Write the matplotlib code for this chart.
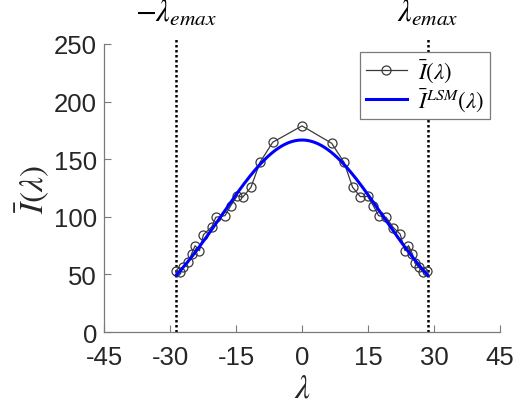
import numpy as np
import matplotlib
matplotlib.use("Agg")
import matplotlib.pyplot as plt

plt.rcParams["font.family"] = ["Liberation Sans", "DejaVu Sans"]
plt.rcParams["mathtext.fontset"] = "stix"
plt.rcParams["axes.unicode_minus"] = False

# Mean intensity samples over lambda
lam = [-28.6, -27.7, -27.1, -25.8, -25.1, -24.3, -23.3, -22.4, -20.5, -19.6,
       -17.5, -16.2, -14.7, -13.5, -11.6, -9.55, -6.66, 0.0,
       6.75, 9.55, 11.5, 13.25, 14.9, 16.2, 17.4, 19.1, 20.75, 22.3,
       23.4, 24.2, 25.1, 25.7, 26.5, 27.6, 28.4]
intensity = [53.2, 51.8, 56.2, 60.5, 67.7, 74.9, 70.6, 84.5, 91.4, 99.6,
             101.0, 109.6, 118.3, 116.9, 125.6, 147.3, 164.7, 178.9,
             163.8, 147.3, 125.6, 117.5, 117.8, 109.7, 101.0, 99.6, 90.7, 85.0,
             70.6, 75.0, 67.7, 59.6, 56.2, 52.0, 53.2]
lam_emax = 28.6

xticks = [-45, -30, -15, 0, 15, 30, 45]
yticks = [0, 50, 100, 150, 200, 250]

lam_arr = np.array(lam)
I_arr = np.array(intensity)
order = np.argsort(lam_arr)
lam_arr, I_arr = lam_arr[order], I_arr[order]

# Least-squares Gaussian fit: A * exp(-lam^2 / (2 s^2)), grid search on s
s_grid = np.linspace(10, 30, 2001)
best = None
for s in s_grid:
    g = np.exp(-lam_arr**2 / (2 * s**2))
    A = np.dot(g, I_arr) / np.dot(g, g)
    r = np.sum((I_arr - A * g) ** 2)
    if best is None or r < best[0]:
        best = (r, A, s)
_, A_fit, s_fit = best
lam_fit = np.linspace(-lam_emax, lam_emax, 400)
I_fit = A_fit * np.exp(-lam_fit**2 / (2 * s_fit**2))

fig = plt.figure(figsize=(5.19, 4.06), dpi=100)
ax = fig.add_axes([0.2004, 0.1798, 0.763, 0.7094])

axis_col = "#7a7a7a"
text_col = "#262626"

ax.plot(lam_arr, I_arr, color="#3a3a3a", lw=0.9, marker="o", ms=6.5,
        mfc="none", mec="#3a3a3a", mew=0.9, label=r"$\bar{I}(\lambda)$", zorder=3)
ax.plot(lam_fit, I_fit, color="#0000ff", lw=2.2,
        label=r"$\bar{I}^{LSM}(\lambda)$", zorder=4)

for xv in (-lam_emax, lam_emax):
    ax.plot([xv, xv], [0, 254], color="black", ls=(0, (1, 1)), lw=1.8,
            clip_on=False, zorder=2)

ax.set_xlim(-45, 45)
ax.set_ylim(0, 250)
ax.set_xticks(xticks)
ax.set_yticks(yticks)
ax.tick_params(direction="in", length=5, width=0.8, color=axis_col,
               labelsize=18.5, labelcolor=text_col)
ax.tick_params(axis="x", pad=9)
ax.tick_params(axis="y", pad=5)
for side in ("top", "right"):
    ax.spines[side].set_visible(False)
for side in ("left", "bottom"):
    ax.spines[side].set_color(axis_col)
    ax.spines[side].set_linewidth(0.9)

ax.set_xlabel(r"$\lambda$", fontsize=24, color=text_col, labelpad=3)
ax.set_ylabel(r"$\bar{I}(\lambda)$", fontsize=24, color=text_col, labelpad=2)

ax.text(-lam_emax, 1.055, r"$-\lambda_{emax}$", transform=ax.get_xaxis_transform(),
        ha="center", va="bottom", fontsize=22, color="black")
ax.text(lam_emax, 1.055, r"$\lambda_{emax}$", transform=ax.get_xaxis_transform(),
        ha="center", va="bottom", fontsize=22, color="black")

leg = ax.legend(loc="upper right", bbox_to_anchor=(0.975, 0.972), fontsize=16.5,
                frameon=True, fancybox=False, handlelength=1.8,
                borderpad=0.25, labelspacing=0.1, handletextpad=0.5,
                borderaxespad=0.0)
leg.get_frame().set_edgecolor(axis_col)
leg.get_frame().set_linewidth(0.9)
leg.get_frame().set_alpha(1.0)
leg.set_zorder(10)

fig.savefig("out.png", dpi=100)
